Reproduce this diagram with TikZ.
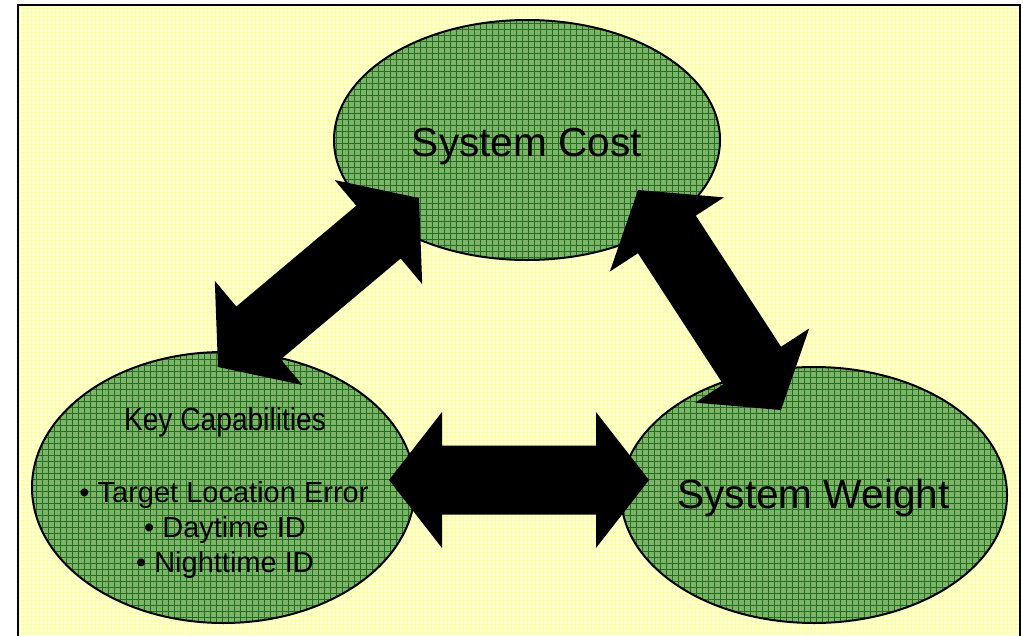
\documentclass[tikz,border=0pt]{standalone}
\usepackage{fontspec}
\setmainfont{Liberation Sans}
\newfontfamily\narrowfont[FakeStretch=0.88]{Liberation Sans}
\usetikzlibrary{calc,shapes.geometric,patterns.meta}

\definecolor{paper}{RGB}{255,255,212}
\definecolor{paperdots}{RGB}{255,255,120}
\definecolor{leaf}{RGB}{125,180,104}
\definecolor{leafgrid}{RGB}{34,110,34}

\tikzset{
  bubble/.style={ellipse, inner sep=0pt, draw=black, line width=2pt,
    preaction={fill=leaf},
    pattern={Hatch[distance=6pt,line width=0.6pt]}, pattern color=leafgrid},
  bigtext/.style={anchor=base, inner sep=0pt, font=\fontsize{40.6}{48}\selectfont},
  listtext/.style={anchor=base, inner sep=0pt, font=\fontsize{29}{35}\selectfont},
  headtext/.style={anchor=base, inner sep=0pt, font=\narrowfont\fontsize{32}{38}\selectfont},
  % filled double-headed block arrow between two points
  blockarrow/.style={fill=black, to path={
      ($(\tikztostart)!53pt!(\tikztotarget)$) coordinate (ba1)
      ($(\tikztotarget)!53pt!(\tikztostart)$) coordinate (ba2)
      (\tikztostart)
      -- ($(ba1)!68pt!90:(\tikztotarget)$) -- ($(ba1)!34.5pt!90:(\tikztotarget)$)
      -- ($(ba2)!34.5pt!-90:(\tikztostart)$) -- ($(ba2)!68pt!-90:(\tikztostart)$)
      -- (\tikztotarget)
      -- ($(ba2)!68pt!90:(\tikztostart)$) -- ($(ba2)!34.5pt!90:(\tikztostart)$)
      -- ($(ba1)!34.5pt!-90:(\tikztotarget)$) -- ($(ba1)!68pt!-90:(\tikztotarget)$)
      -- cycle}}
}

\begin{document}
\begin{tikzpicture}[x=1pt,y=-1pt]
  \useasboundingbox (0,0) rectangle (1023,635);
  \clip (0,0) rectangle (1023,635);

  % patterned page background and frame
  \fill[paper] (18,5) rectangle (1020,645);
  \path[pattern={Hatch[distance=4pt,line width=0.8pt]}, pattern color=paperdots]
    (18,5) rectangle (1020,645);
  \draw[line width=2.8pt] (18,5) rectangle (1020,645);

  % the three ellipses
  \node[bubble, minimum width=386pt, minimum height=240pt] (cost) at (527,140) {};
  \node[bubble, minimum width=383pt, minimum height=271pt] (caps) at (223.5,487.5) {};
  \node[bubble, minimum width=386pt, minimum height=256pt] (weight) at (814,495) {};

  % labels
  \node[bigtext] (costlabel) at (527,156) {System Cost};
  \node[bigtext] (weightlabel) at (813.5,508) {System Weight};
  \node[headtext] (capshead) at (225,430) {Key Capabilities};
  \node[listtext] (capsa) at (224,502) {\textbullet\ Target Location Error};
  \node[listtext] (capsb) at (225,537) {\textbullet\ Daytime ID};
  \node[listtext] (capsc) at (225,572) {\textbullet\ Nighttime ID};

  % arrow end points
  \coordinate (capsE) at (389,480);
  \coordinate (weightW) at (649,480);
  \coordinate (capsN) at (218,367);
  \coordinate (costSW) at (419,198);
  \coordinate (costSE) at (638,190);
  \coordinate (weightN) at (781,410);

  % trade-off arrows
  \fill[blockarrow] (capsN) to (costSW);
  \fill[blockarrow] (costSE) to (weightN);
  \fill[blockarrow] (capsE) to (weightW);
\end{tikzpicture}
\end{document}
